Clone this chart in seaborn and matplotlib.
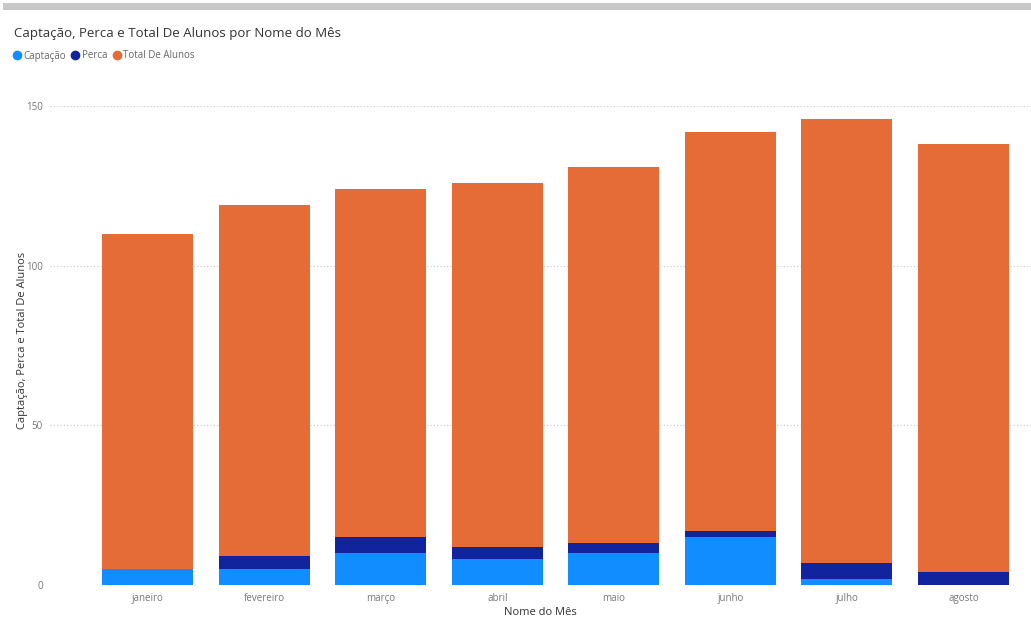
import numpy as np
import pandas as pd
import seaborn as sns
import matplotlib.pyplot as plt
from matplotlib.patches import Rectangle
from matplotlib.lines import Line2D

# Dados
meses = ["janeiro", "fevereiro", "março", "abril", "maio", "junho", "julho", "agosto"]
captacao = [5, 5, 10, 8, 10, 15, 2, 0]
perca = [0, 4, 5, 4, 3, 2, 5, 4]
total_alunos = [105, 110, 109, 114, 118, 125, 139, 134]

cor_captacao = "#118DFF"
cor_perca = "#12239E"
cor_total = "#E66C37"

df = pd.DataFrame({"mes": meses, "captacao": captacao, "perca": perca, "total": total_alunos})
df["topo_perca"] = df["captacao"] + df["perca"]
df["topo_total"] = df["topo_perca"] + df["total"]

sns.set_style("white")
plt.rcParams["font.family"] = ["Open Sans", "DejaVu Sans"]

fig = plt.figure(figsize=(10.31, 6.19), dpi=100)
ax = fig.add_axes([50 / 1031, 34 / 619, 981 / 1031, 479 / 619])

# Barras empilhadas: desenha do acumulado maior para o menor
estilo = dict(width=0.78, saturation=1, ax=ax, linewidth=0, edgecolor="none")
sns.barplot(data=df, x="mes", y="topo_total", color=cor_total, zorder=2, **estilo)
sns.barplot(data=df, x="mes", y="topo_perca", color=cor_perca, zorder=3, **estilo)
sns.barplot(data=df, x="mes", y="captacao", color=cor_captacao, zorder=4, **estilo)

ax.set_ylim(0, 150)
ax.set_xlim(-0.84, 7.58)
ax.set_yticks([0, 50, 100, 150])
ax.yaxis.grid(True, linestyle=(0, (1, 2)), color="#c8c8c8", linewidth=0.8, zorder=0)
ax.set_axisbelow(True)
for s in ax.spines.values():
    s.set_visible(False)
ax.tick_params(axis="both", length=0, labelsize=7, labelcolor="#777777")
ax.tick_params(axis="x", pad=6)
ax.tick_params(axis="y", pad=5)

ax.set_xlabel("Nome do Mês", fontsize=8, color="#333333", labelpad=2)
ax.set_ylabel("Captação, Perca e Total De Alunos", fontsize=8, color="#333333")
ax.yaxis.set_label_coords(-22 / 981, 0.51)

# Faixa cinza no topo
fig.patches.append(Rectangle((3 / 1031, 1 - 9.5 / 619), 1, 6 / 619, transform=fig.transFigure,
                             facecolor="#c8c8c8", edgecolor="none"))

fig.text(14 / 1031, 1 - 33 / 619, "Captação, Perca e Total De Alunos por Nome do Mês",
         fontsize=9.5, color="#333333", va="center", ha="left")

handles = [Line2D([], [], marker="o", linestyle="", markersize=6, color=c)
           for c in [cor_captacao, cor_perca, cor_total]]
leg = fig.legend(handles, ["Captação", "Perca", "Total De Alunos"], loc="center left",
                 bbox_to_anchor=(7 / 1031, 1 - 56 / 619), ncol=3, frameon=False, fontsize=7,
                 handletextpad=0.05, columnspacing=0.4, handlelength=1.2, borderaxespad=0)
for t in leg.get_texts():
    t.set_color("#666666")

fig.savefig("out.png", dpi=100)
